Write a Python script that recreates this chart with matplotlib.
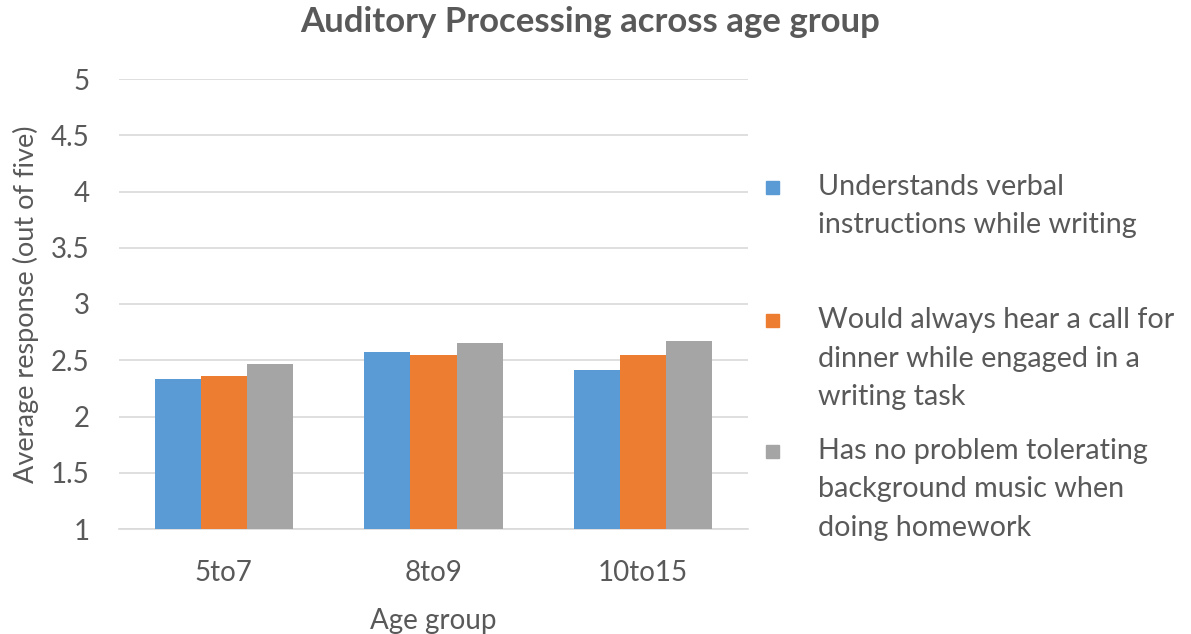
import matplotlib.pyplot as plt
from matplotlib.patches import Rectangle
import numpy as np

plt.rcParams['font.family'] = ['Lato', 'DejaVu Sans']

# data
groups = ['5to7', '8to9', '10to15']
series_names = [
    ['Understands verbal', 'instructions while writing'],
    ['Would always hear a call for', 'dinner while engaged in a', 'writing task'],
    ['Has no problem tolerating', 'background music when', 'doing homework'],
]
verbal = [2.33, 2.57, 2.41]
dinner = [2.36, 2.55, 2.55]
music = [2.47, 2.65, 2.67]
colors = ['#5b9bd5', '#ed7d31', '#a5a5a5']
text_col = '#595959'

W, H = 1191, 634
fig = plt.figure(figsize=(W / 100, H / 100), dpi=100)
ax = fig.add_axes([119 / W, 1 - 529 / H, (748 - 119) / W, (529 - 79) / H])

x = np.arange(len(groups))
bw = 0.22
for k, vals in enumerate([verbal, dinner, music]):
    ax.bar(x + (k - 1) * bw, np.array(vals) - 1, bottom=1, width=bw,
           color=colors[k], zorder=3)

ax.set_xlim(-0.5, 2.5)
ax.set_ylim(1, 5)
ax.set_yticks(np.arange(1, 5.01, 0.5))
ax.set_yticklabels(['1', '1.5', '2', '2.5', '3', '3.5', '4', '4.5', '5'])
ax.set_xticks(x)
ax.set_xticklabels(groups)
ax.grid(axis='y', color='#d9d9d9', linewidth=1.2, zorder=0)
for s in ['top', 'right', 'left']:
    ax.spines[s].set_visible(False)
ax.spines['bottom'].set_color('#d9d9d9')
ax.spines['bottom'].set_linewidth(1.2)
ax.tick_params(length=0, labelsize=20, colors=text_col)
ax.tick_params(axis='y', pad=21)
ax.tick_params(axis='x', pad=22)
ax.set_xlabel('Age group', fontsize=20, color=text_col, labelpad=16)
ax.set_ylabel('Average response (out of five)', fontsize=19.5, color=text_col)
ax.yaxis.set_label_coords(-80 / 629, 0.5)

fig.text(590 / W, 1 - 22 / H, 'Auditory Processing across age group', ha='center',
         va='center', fontsize=25, fontweight='bold', color=text_col)

# legend drawn by hand
first_y = [187, 320, 451]
for k, lines in enumerate(series_names):
    y0 = first_y[k]
    fig.patches.append(Rectangle((766 / W, 1 - (y0 + 7) / H), 13 / W, 13 / H,
                                 transform=fig.transFigure, color=colors[k]))
    for j, line in enumerate(lines):
        fig.text(818 / W, 1 - (y0 + j * 38.5) / H, line, ha='left', va='center',
                 fontsize=20.7, color=text_col)

fig.savefig('out.png', dpi=100)
